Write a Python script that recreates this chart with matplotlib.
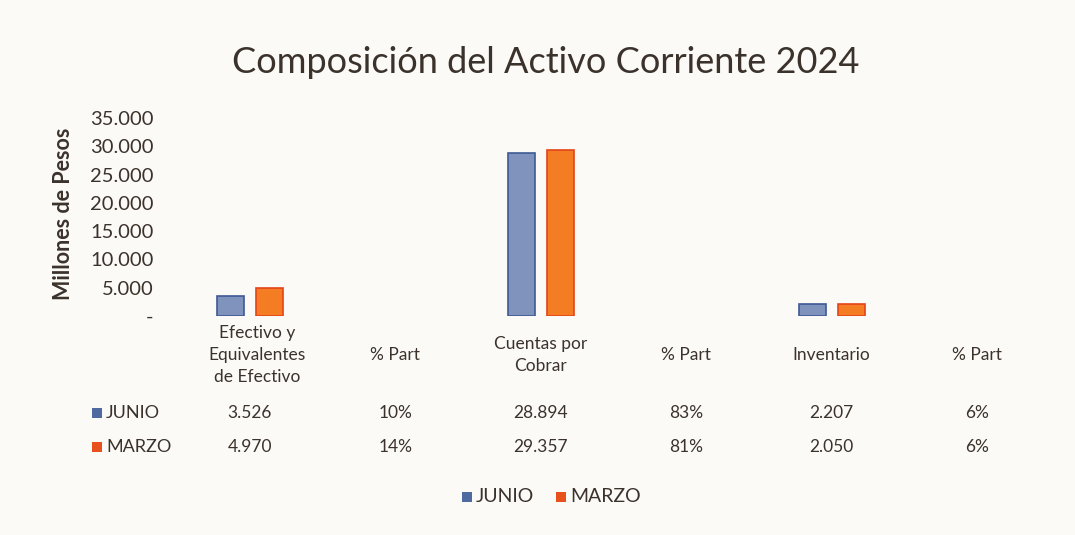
import matplotlib
matplotlib.use("Agg")
import matplotlib.pyplot as plt
from matplotlib.ticker import FuncFormatter
from matplotlib.transforms import blended_transform_factory
from matplotlib.patches import Rectangle
import numpy as np

categories = ["Efectivo y\nEquivalentes\nde Efectivo", "% Part", "Cuentas por\nCobrar",
              "% Part", "Inventario", "% Part"]
is_pct = [False, True, False, True, False, True]
series_names = ["JUNIO", "MARZO"]
junio = [3526, 0.10, 28894, 0.83, 2207, 0.06]
marzo = [4970, 0.14, 29357, 0.81, 2050, 0.06]

TEXT = "#3b322c"
BG = "#fbfaf6"
FILL = ["#8093bd", "#f47c22"]
EDGE = ["#3f5a94", "#e4441a"]
SQUARE = ["#4f6aa0", "#e8501e"]

plt.rcParams["font.family"] = ["Lato", "DejaVu Sans"]

fig = plt.figure(figsize=(10.75, 5.35), dpi=100, facecolor=BG)
ax = fig.add_axes([177 / 1075, 1 - 316 / 535, 873 / 1075, 198 / 535])
ax.set_facecolor(BG)

x = np.arange(len(categories))
w = 0.186
for i, vals in enumerate([junio, marzo]):
    xs = [xi for xi, p in zip(x, is_pct) if not p]
    vs = [v for v, p in zip(vals, is_pct) if not p]
    off = (-0.5 + i) * 0.27
    ax.bar(np.array(xs) + off, vs, width=w, color=FILL[i], edgecolor=EDGE[i], linewidth=1.2)

ax.set_xlim(-0.5, len(categories) - 0.5)
ax.set_ylim(0, 35000)
ax.set_yticks(range(0, 35001, 5000))
ax.yaxis.set_major_formatter(FuncFormatter(
    lambda v, _: "-" if v == 0 else f"{int(v):,}".replace(",", ".")))
ax.tick_params(axis="y", length=0, pad=17, labelsize=14.5, labelcolor=TEXT)
ax.set_xticks([])
for s in ax.spines.values():
    s.set_visible(False)

fig.text(63 / 1075, 1 - 214 / 535, "Millones de Pesos", rotation=90, ha="center",
         va="center", fontsize=15.5, fontweight="bold", color=TEXT)

fig.suptitle("Composición del Activo Corriente 2024", x=546 / 1075, y=1 - 62 / 535,
             va="center", fontsize=26, color=TEXT)

# data table below the axes
tr = blended_transform_factory(ax.transData, fig.transFigure)
for xi, cat in zip(x, categories):
    ax.text(xi + (0.05 if xi == 0 else 0), 1 - 355 / 535, cat, transform=tr, ha="center",
            va="center", fontsize=12.5, color=TEXT, linespacing=1.45)

rows_y = [1 - 413 / 535, 1 - 447 / 535]
for i, (name, vals) in enumerate(zip(series_names, [junio, marzo])):
    fig.text(106 / 1075, rows_y[i], name, ha="left", va="center", fontsize=13, color=TEXT)
    fig.patches.append(Rectangle((92 / 1075, rows_y[i] - 5 / 535), 10 / 1075, 10 / 535,
                                 transform=fig.transFigure, facecolor=SQUARE[i],
                                 edgecolor="none"))
    for xi, v, p in zip(x, vals, is_pct):
        label = f"{v:.0%}" if p else f"{int(v):,}".replace(",", ".")
        ax.text(xi, rows_y[i], label, transform=tr, ha="center", va="center",
                fontsize=12.5, color=TEXT)

# legend
leg_y = 1 - 497 / 535
leg_x = [476, 570]
for i, name in enumerate(series_names):
    fig.patches.append(Rectangle(((leg_x[i] - 14) / 1075, leg_y - 5 / 535), 10 / 1075, 10 / 535,
                                 transform=fig.transFigure, facecolor=SQUARE[i],
                                 edgecolor="none"))
    fig.text(leg_x[i] / 1075, leg_y, name, ha="left", va="center", fontsize=14, color=TEXT)

fig.savefig("out.png", dpi=100, facecolor=BG)
